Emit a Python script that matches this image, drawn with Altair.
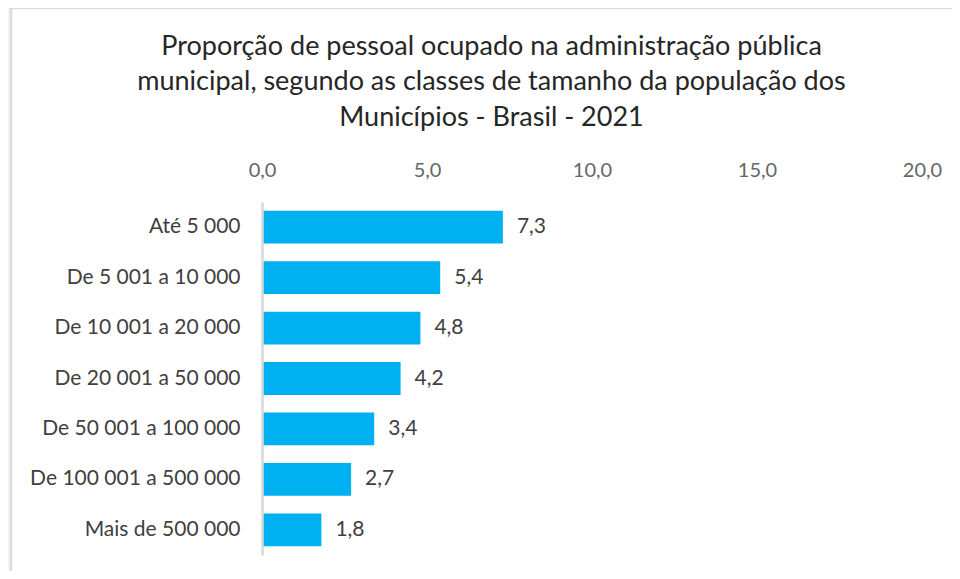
import altair as alt
import pandas as pd

categories = ["Até 5 000", "De 5 001 a 10 000", "De 10 001 a 20 000", "De 20 001 a 50 000",
              "De 50 001 a 100 000", "De 100 001 a 500 000", "Mais de 500 000"]
values = [7.3, 5.4, 4.8, 4.2, 3.4, 2.7, 1.8]
x_ticks = [0, 5, 10, 15, 20]
title_lines = ["Proporção de pessoal ocupado na administração pública",
               "municipal, segundo as classes de tamanho da população dos",
               "Municípios - Brasil - 2021"]

df = pd.DataFrame({"classe": categories, "valor": values})
FONT = "Lato"

base = alt.Chart(df).transform_calculate(
    rotulo="replace(format(datum.valor, '.1f'), '.', ',')"
)

y_enc = alt.Y("classe:N", sort=categories, title=None,
              scale=alt.Scale(paddingInner=0.35, paddingOuter=0.175),
              axis=alt.Axis(domainColor="#d9d9d9", domainWidth=2.5, ticks=False,
                            labelPadding=22, labelFontSize=21, labelColor="#404040",
                            labelFont=FONT, labelLimit=400, zindex=1))
x_enc = alt.X("valor:Q", title=None,
              scale=alt.Scale(domain=[0, 20], nice=False),
              axis=alt.Axis(orient="top", values=x_ticks, grid=False, domain=False,
                            ticks=False, labelPadding=22, labelFontSize=20,
                            labelColor="#666666", labelFont=FONT, zindex=1,
                            labelFlush=False,
                            labelExpr="replace(format(datum.value, '.1f'), '.', ',')"))

frame = alt.Chart(alt.Data(values=[{"a": 1}])).mark_rect(
    fill="white", stroke="#dcdcdc", strokeWidth=2.5
).encode(x=alt.value(-251), x2=alt.value(710), y=alt.value(-194), y2=alt.value(420))

bars = base.mark_bar(color="#00B0F0").encode(y=y_enc, x=x_enc)
labels = base.mark_text(align="left", baseline="middle", dx=14, fontSize=21,
                        color="#404040", font=FONT).encode(
    y=alt.Y("classe:N", sort=categories), x="valor:Q", text="rotulo:N")

chart = alt.layer(frame, bars, labels).properties(
    width=660, height=353,
    autosize=alt.AutoSizeParams(type="none"),
    padding={"left": 254, "top": 194, "right": 30, "bottom": 16},
    background="#f5f5f5",
    title=alt.TitleParams(title_lines, anchor="middle", frame="bounds", fontSize=27,
                          font=FONT, fontWeight="normal", color="#262626",
                          lineHeight=35.5, offset=-125)
).configure_view(stroke=None)

chart.save("out.html", embed_options={"renderer": "svg", "actions": False})
